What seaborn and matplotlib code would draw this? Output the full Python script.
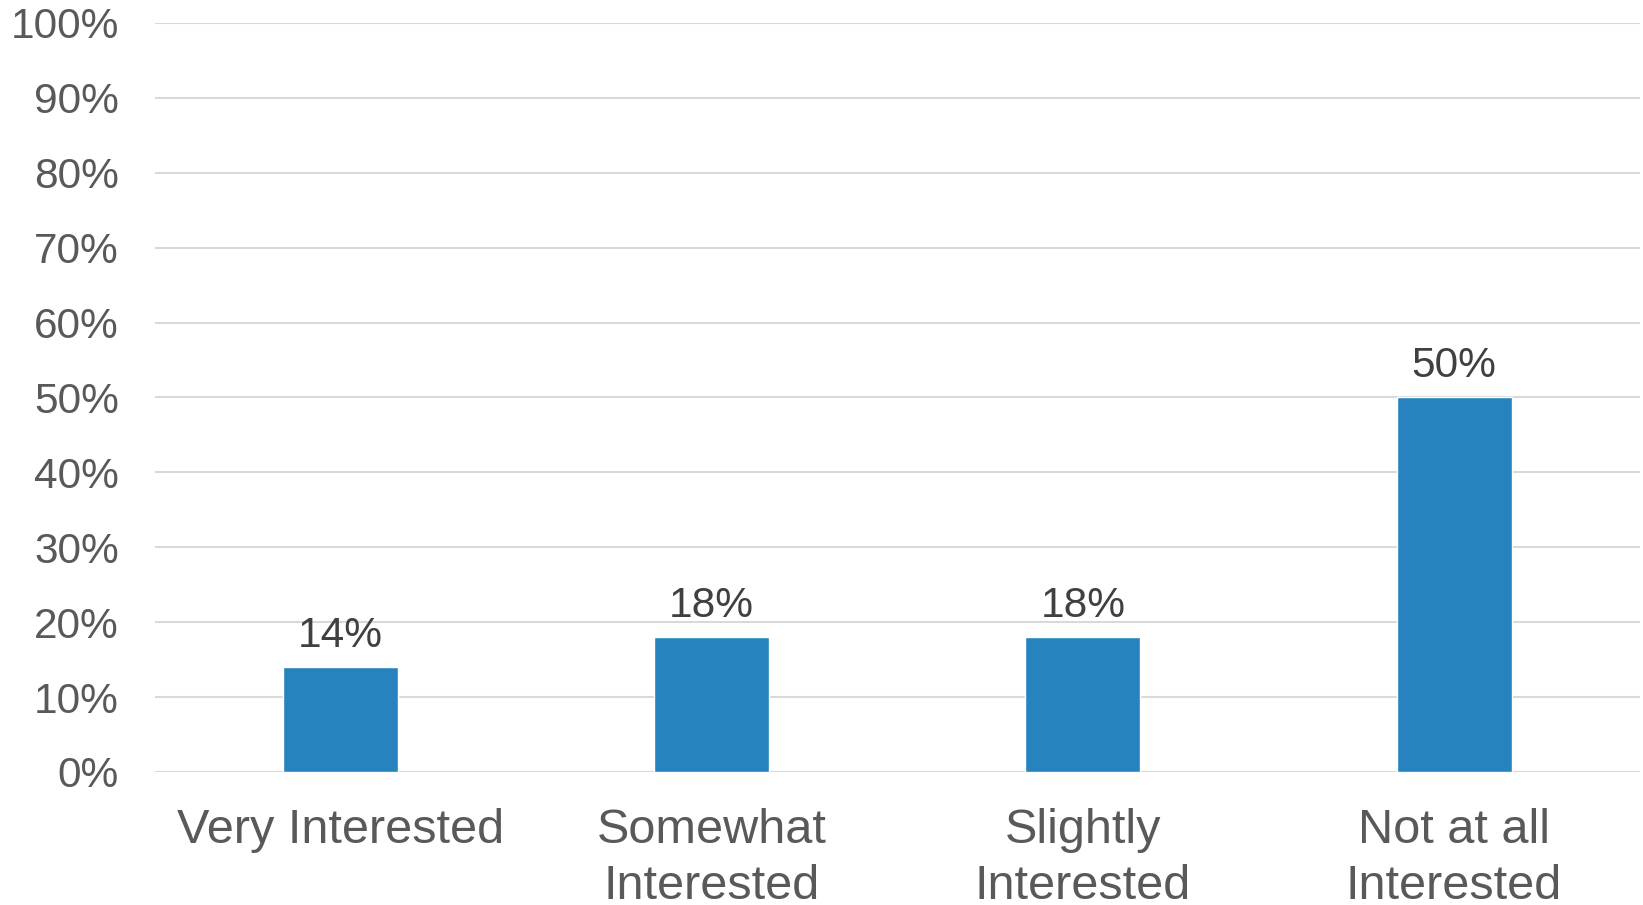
import matplotlib
matplotlib.use('Agg')
import matplotlib.pyplot as plt
import seaborn as sns
import numpy as np
import pandas as pd

categories = ['Very Interested', 'Somewhat\nInterested', 'Slightly\nInterested', 'Not at all\nInterested']
percent = [14, 18, 18, 50]
y_ticks = [0, 10, 20, 30, 40, 50, 60, 70, 80, 90, 100]

sns.set_style('white')
plt.rcParams['font.family'] = ['Liberation Sans', 'DejaVu Sans']

frame = pd.DataFrame({'category': categories, 'percent': percent})

fig = plt.figure(figsize=(16.43, 9.05), dpi=100)
ax = fig.add_axes([0.0943, 0.147, 0.9037, 0.8276])

sns.barplot(data=frame, x='category', y='percent', color='#2683BE',
            width=0.31, saturation=1, ax=ax)

ax.set_ylim(0, 100)
ax.set_xlim(-0.5, 3.5)
ax.set_yticks(y_ticks)
ax.set_yticklabels([str(t) + '%' for t in y_ticks])
ax.yaxis.grid(True, color='#D9D9D9', linewidth=1.5)
ax.set_axisbelow(True)
for s in ax.spines.values():
    s.set_visible(False)

ax.tick_params(axis='y', length=0, pad=26, labelsize=30.5, labelcolor='#595959')
ax.tick_params(axis='x', length=0, pad=26, labelsize=35, labelcolor='#595959')
for lab in ax.get_xticklabels():
    lab.set_linespacing(1.3)

ax.set_xlabel('')
ax.set_ylabel('')

for cont in ax.containers:
    ax.bar_label(cont, labels=[str(v) + '%' for v in percent], padding=8,
                 fontsize=30.5, color='#404040')

plt.savefig('out.png', dpi=100)
